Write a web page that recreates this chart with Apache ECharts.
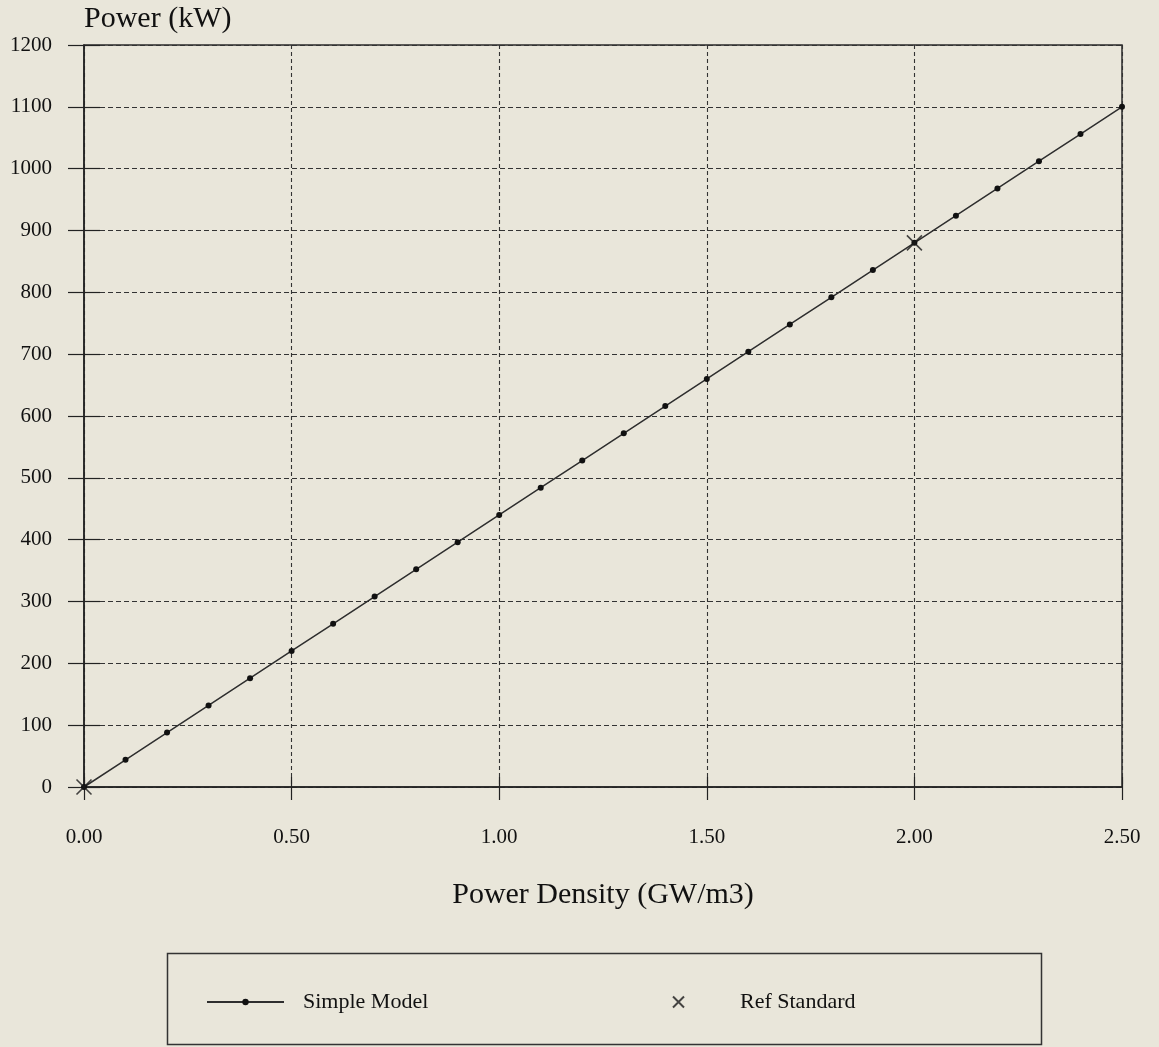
<!DOCTYPE html>
<html>
<head>
<meta charset="utf-8">
<script src="https://cdn.jsdelivr.net/npm/echarts@6/dist/echarts.min.js"></script>
<style>
  html, body { margin: 0; padding: 0; background: #e9e6da; }
  #chart { width: 1159px; height: 1047px; }
</style>
</head>
<body>
<div id="chart"></div>
<script>
// Data
const powerDensity = [0.0, 0.1, 0.2, 0.3, 0.4, 0.5, 0.6, 0.7, 0.8, 0.9, 1.0, 1.1, 1.2, 1.3, 1.4, 1.5, 1.6, 1.7, 1.8, 1.9, 2.0, 2.1, 2.2, 2.3, 2.4, 2.5];
const simpleModel = [0, 44, 88, 132, 176, 220, 264, 308, 352, 396, 440, 484, 528, 572, 616, 660, 704, 748, 792, 836, 880, 924, 968, 1012, 1056, 1100];
const refStandardX = [0.0, 2.0];
const refStandardY = [0, 880];
const seriesNames = ['Simple Model', 'Ref Standard'];
const xTitle = 'Power Density (GW/m3)';
const yTitle = 'Power (kW)';

const FONT = '"Liberation Serif", "Times New Roman", serif';
const INK = '#111';
const crossPath = 'path://M0,0L10,10M10,0L0,10';

const chart = echarts.init(document.getElementById('chart'), null, { renderer: 'canvas' });

const option = {
  backgroundColor: '#e9e6da',
  animation: false,
  grid: {
    left: 84, right: 37, top: 45, bottom: 260,
    show: true, borderColor: '#2a2a2a', borderWidth: 1.5, backgroundColor: 'transparent'
  },
  xAxis: [{
    type: 'value', min: 0, max: 2.5, interval: 0.5,
    name: xTitle, nameLocation: 'middle', nameGap: 108,
    nameTextStyle: { fontFamily: FONT, fontSize: 30, color: INK, verticalAlign: 'middle' },
    axisLine: { show: true, lineStyle: { color: '#222', width: 1.5 } },
    axisTick: { show: true, inside: false, length: 13, lineStyle: { color: '#222', width: 1.2 } },
    axisLabel: { fontFamily: FONT, fontSize: 21, color: INK, margin: 40, formatter: v => v.toFixed(2) },
    splitLine: { show: true, lineStyle: { color: '#333', width: 1.1, type: [4, 3] } }
  }, {
    type: 'value', min: 0, max: 2.5, interval: 0.5, position: 'bottom', gridIndex: 0,
    axisLine: { show: false },
    axisTick: { show: true, inside: true, length: 10, lineStyle: { color: '#222', width: 1.2 } },
    axisLabel: { show: false }, splitLine: { show: false }
  }],
  yAxis: [{
    type: 'value', min: 0, max: 1200, interval: 100,
    name: yTitle, nameLocation: 'end', nameGap: 26,
    nameTextStyle: { fontFamily: FONT, fontSize: 30, color: INK, align: 'left', verticalAlign: 'middle' },
    axisLine: { show: true, lineStyle: { color: '#222', width: 1.5 } },
    axisTick: { show: true, inside: false, length: 16, lineStyle: { color: '#222', width: 1.2 } },
    axisLabel: { fontFamily: FONT, fontSize: 21, color: INK, margin: 32, formatter: v => String(v) },
    splitLine: { show: true, lineStyle: { color: '#333', width: 1.1, type: [5, 3] } }
  }, {
    type: 'value', min: 0, max: 1200, interval: 100, position: 'left', gridIndex: 0,
    axisLine: { show: false },
    axisTick: { show: true, inside: true, length: 16, lineStyle: { color: '#222', width: 1.2 } },
    axisLabel: { show: false }, splitLine: { show: false }
  }],
  legend: [{
    data: [seriesNames[0]],
    left: 206, top: 991, padding: 0,
    itemWidth: 77, itemHeight: 8,
    textStyle: { fontFamily: FONT, fontSize: 22, color: INK, padding: [0, 0, 0, 14] }
  }, {
    data: [seriesNames[1]],
    left: 672, top: 991, padding: 0,
    itemWidth: 11, itemHeight: 11,
    textStyle: { fontFamily: FONT, fontSize: 22, color: INK, padding: [0, 0, 0, 51] }
  }],
  graphic: [{
    type: 'rect', silent: true,
    shape: { x: 167.5, y: 953.5, width: 874, height: 91 },
    style: { fill: 'none', stroke: '#333', lineWidth: 1.5 }
  }],
  series: [{
    name: seriesNames[0], type: 'line', xAxisIndex: 0, yAxisIndex: 0,
    data: powerDensity.map((x, i) => [x, simpleModel[i]]),
    symbol: 'circle', symbolSize: 6, showSymbol: true,
    lineStyle: { color: '#2e2e2e', width: 1.5 },
    itemStyle: { color: '#111' },
    z: 3
  }, {
    name: seriesNames[1], type: 'scatter', xAxisIndex: 0, yAxisIndex: 0,
    data: refStandardX.map((x, i) => [x, refStandardY[i]]),
    symbol: crossPath, symbolSize: 15,
    itemStyle: { color: 'transparent', borderColor: '#1a1a1a', borderWidth: 1.6 },
    z: 4
  }]
};

chart.setOption(option);
</script>
</body>
</html>
